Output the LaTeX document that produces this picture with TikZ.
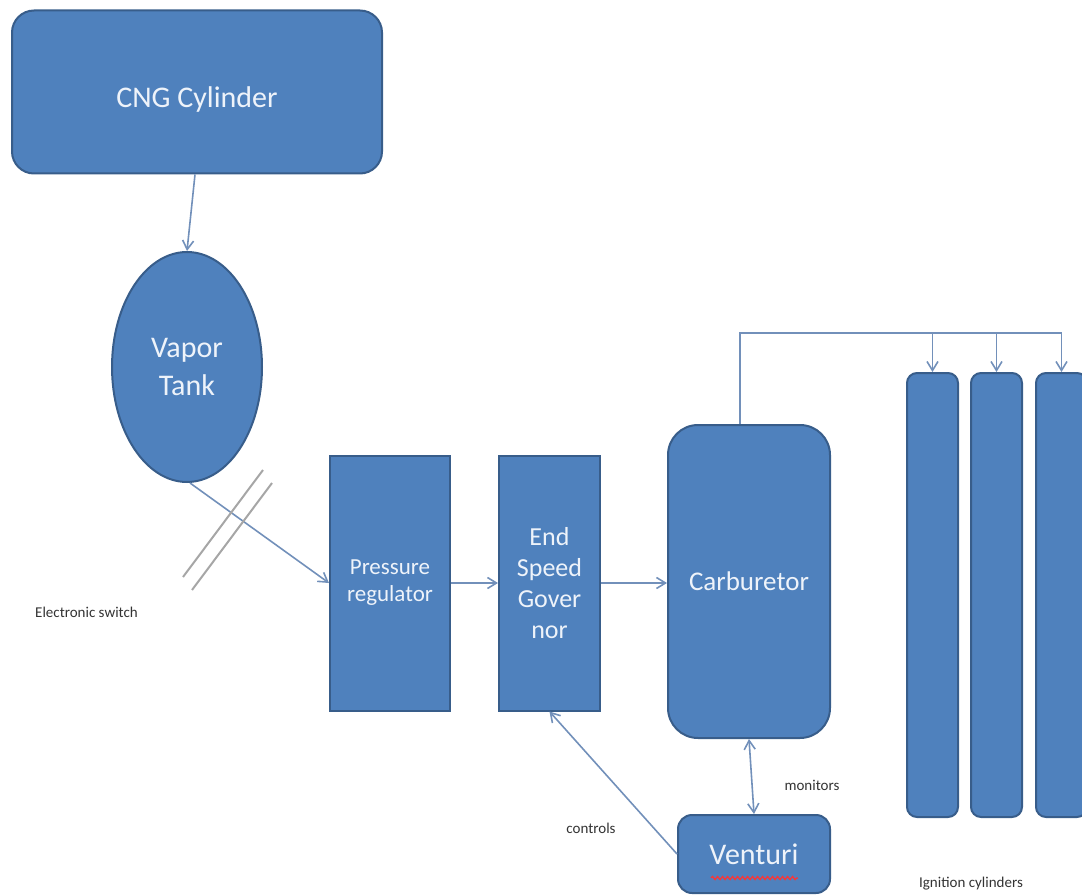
\documentclass[tikz,border=0pt]{standalone}
\usepackage{fontspec}
\setmainfont{Carlito}
\usetikzlibrary{shapes.geometric,arrows.meta,decorations.pathmorphing}
\definecolor{boxfill}{HTML}{4F81BD}
\definecolor{boxline}{HTML}{385D8A}
\definecolor{conn}{HTML}{7290BA}
\definecolor{boxtext}{HTML}{EEF3FA}
\tikzset{
  blk/.style={fill=boxfill,draw=boxline,line width=2pt,text=boxtext,align=center,inner sep=0pt},
  rblk/.style={blk,rounded corners=#1},
  conn/.style={draw=conn,line width=1.6pt,-{Straight Barb[length=9pt,width=11pt]}},
  conn2/.style={draw=conn,line width=1.6pt},
  swline/.style={draw=gray!70,line width=2pt},
  lbl/.style={text=black!80,font=\fontsize{15}{17}\selectfont,inner sep=0pt}
}
\begin{document}
\begin{tikzpicture}[x=1pt,y=1pt]
\useasboundingbox (0,0) rectangle (1082,-896);
% nodes
\node[rblk=22pt,minimum width=370pt,minimum height=163pt] (cng) at (197,-92) {};
\node[text=boxtext,font=\fontsize{30}{33}\selectfont,inner sep=0pt] (cngtext) at ([yshift=-8pt]cng.center) {CNG Cylinder};
\node[blk,ellipse,minimum width=150pt,minimum height=230pt,font=\fontsize{30}{42}\selectfont] (vapor) at (187,-367) {\raisebox{-4pt}{Vapor}\\Tank};
\node[blk,minimum width=120pt,minimum height=255pt,font=\fontsize{23}{27}\selectfont] (press) at (390,-583) {Pressure\\regulator};
\node[blk,minimum width=101pt,minimum height=255pt,font=\fontsize{26}{31}\selectfont] (gov) at (549.5,-583) {End\\Speed\\Gover\\nor};
\node[rblk=30pt,minimum width=162pt,minimum height=313pt,font=\fontsize{27}{31}\selectfont] (carb) at (749,-581.5) {Carburetor};
\node[rblk=14pt,minimum width=152pt,minimum height=78pt,font=\fontsize{30}{33}\selectfont] (vent) at (754,-854) {Venturi};
\node[rblk=10pt,minimum width=51pt,minimum height=444pt] (cyl1) at (932.5,-595) {};
\node[rblk=10pt,minimum width=51pt,minimum height=444pt] (cyl2) at (996.5,-595) {};
\node[rblk=10pt,minimum width=51pt,minimum height=444pt] (cyl3) at (1061.5,-595) {};
% red spell-check underline
\draw[red!80,line width=1.2pt,decorate,decoration={snake,amplitude=1.6pt,segment length=5pt}] (711,-878) -- (798,-878);
% labels
\node[lbl,anchor=west] (esw) at (35,-612) {Electronic switch};
\node[lbl] (ctl) at (591,-828) {controls};
\node[lbl] (mon) at (812,-785) {monitors};
\node[lbl] (ign) at (971,-884) {Ignition cylinders};
% connectors
\draw[conn] (cng.south -| 195,0) -- (vapor.north);
\coordinate (vb) at (190,-483);
\draw[conn] (vb) -- (press.west);
\draw[swline] (183,-577) -- (263,-470);
\draw[swline] (192,-590) -- (272,-483);
\draw[conn] (press.east) -- (gov.west);
\draw[conn] (gov.east) -- (gov.east -| carb.west);
\coordinate (top) at (740,-333);
\draw[conn2] (carb.north -| 740,0) -- (top) -- (cyl3.north |- top);
\draw[conn] (cyl1.north |- top) -- (cyl1.north);
\draw[conn] (cyl2.north |- top) -- (cyl2.north);
\draw[conn] (cyl3.north |- top) -- (cyl3.north);
\draw[conn,{Straight Barb[length=9pt,width=11pt]}-{Straight Barb[length=9pt,width=11pt]}] (carb.south) -- (vent.north);
\draw[conn] (vent.west) -- (gov.south);
\end{tikzpicture}
\end{document}
